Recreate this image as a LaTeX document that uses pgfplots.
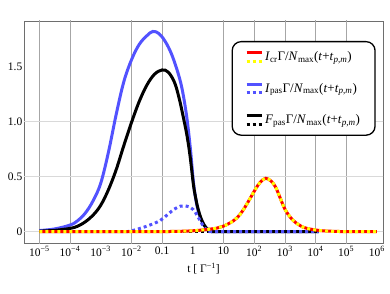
\documentclass[border=0pt]{standalone}
\usepackage{fontspec}
\setmainfont{Liberation Serif}
\usepackage{pgfplots}
\pgfplotsset{compat=1.18}
\definecolor{mblue}{RGB}{82,82,255}
\definecolor{myellow}{RGB}{255,255,0}
\definecolor{mred}{RGB}{255,0,0}
\definecolor{framegray}{RGB}{110,110,110}
\begin{document}
\begin{tikzpicture}
\useasboundingbox (0,0) rectangle (390pt,293pt);
\begin{axis}[
  at={(24pt,50pt)}, anchor=south west,
  scale only axis, width=359pt, height=222pt,
  xmin=-5.5, xmax=6.2, ymin=-0.103, ymax=1.915,
  xtick={-5,-4,-3,-2,-1,0,1,2,3,4,5,6},
  xticklabels={10\textsuperscript{−5},10\textsuperscript{−4},10\textsuperscript{−3},10\textsuperscript{−2},0.1,1,10,10\textsuperscript{2},10\textsuperscript{3},10\textsuperscript{4},10\textsuperscript{5},10\textsuperscript{6}},
  ytick={0,0.5,1,1.5}, yticklabels={0,0.5,1.0,1.5},
  grid=none,
  major tick length=0pt,
  tick style={draw=none},
  tick label style={font=\fontsize{11.5}{13}\selectfont},
  yticklabel style={inner xsep=1.5pt},
  axis line style={draw=framegray, line width=0.6pt},
  xlabel={t [ Γ\textsuperscript{−1}]},
  xlabel style={font=\fontsize{11.5}{13}\selectfont},
  legend cell align=left,
  legend style={at={(0.9797,0.91)}, anchor=north east, draw=black, line width=1.3pt,
    rounded corners=9pt, fill=white, font=\fontsize{13}{15}\selectfont,
    row sep=17pt, inner xsep=13pt, inner ysep=8pt},
]
\pgfplotsinvokeforeach{-5,-4,-2,-1,1,2,3,4,5}{
  \draw[black!35, line width=0.5pt] (axis cs:#1,-0.2) -- (axis cs:#1,2);}
\pgfplotsinvokeforeach{0,0.5,1}{
  \draw[black!15, line width=1.3pt] (axis cs:-6,#1) -- (axis cs:7,#1);}

\addlegendimage{legend image code/.code={
  \draw[mred, line width=3pt] (0pt,4.25pt) -- (15pt,4.25pt);
  \draw[myellow, line width=3pt, dash pattern=on 3pt off 3pt] (0pt,-4.25pt) -- (15pt,-4.25pt);}}
\addlegendentry{\textit{I}\textsubscript{cr}Γ/\textit{N}\textsubscript{max}(\textit{t}+\textit{t}\textsubscript{\textit{p},\textit{m}})}
\addlegendimage{legend image code/.code={
  \draw[mblue, line width=3pt] (0pt,4.25pt) -- (15pt,4.25pt);
  \draw[mblue, line width=3pt, dash pattern=on 3pt off 3pt] (0pt,-4.25pt) -- (15pt,-4.25pt);}}
\addlegendentry{\textit{I}\textsubscript{pas}Γ/\textit{N}\textsubscript{max}(\textit{t}+\textit{t}\textsubscript{\textit{p},\textit{m}})}
\addlegendimage{legend image code/.code={
  \draw[black, line width=3pt] (0pt,4.25pt) -- (15pt,4.25pt);
  \draw[black, line width=3pt, dash pattern=on 3pt off 3pt] (0pt,-4.25pt) -- (15pt,-4.25pt);}}
\addlegendentry{\textit{F}\textsubscript{pas}Γ/\textit{N}\textsubscript{max}(\textit{t}+\textit{t}\textsubscript{\textit{p},\textit{m}})}

% I_pas solid (blue)
\addplot[forget plot, mblue, line width=3pt, smooth, tension=0.6] coordinates {
(-5,0.01) (-4.5,0.025) (-4.0,0.06) (-3.75,0.1) (-3.5,0.17) (-3.25,0.28) (-3.0,0.44)
(-2.75,0.72) (-2.5,1.06) (-2.25,1.36) (-2.0,1.56) (-1.75,1.7) (-1.5,1.78) (-1.3,1.82)
(-1.1,1.8) (-0.9,1.73) (-0.7,1.62) (-0.5,1.46) (-0.35,1.3) (-0.2,1.05) (-0.08,0.76)
(0.03,0.43) (0.15,0.22) (0.3,0.09) (0.45,0.03) (0.6,0.006) (0.75,0) (2,0) (4.1,0)};
% F_pas solid (black)
\addplot[forget plot, black, line width=3pt, smooth, tension=0.6] coordinates {
(-5,0.005) (-4.5,0.012) (-4,0.03) (-3.75,0.05) (-3.5,0.09) (-3.25,0.15) (-3.0,0.24)
(-2.75,0.38) (-2.5,0.56) (-2.25,0.78) (-2.0,0.99) (-1.75,1.18) (-1.5,1.33) (-1.25,1.43)
(-1.0,1.47) (-0.8,1.45) (-0.6,1.36) (-0.45,1.22) (-0.3,1.03) (-0.18,0.86) (-0.08,0.67)
(0.02,0.43) (0.1,0.3) (0.18,0.2) (0.3,0.1) (0.45,0.03) (0.6,0.006) (0.75,0) (2,0) (4.1,0)};
% F_pas dotted (black)
\addplot[forget plot, black, line width=3pt, dash pattern=on 3pt off 3pt] coordinates {
(-5,0) (4.1,0)};
% I_pas dotted (blue)
\addplot[forget plot, mblue, line width=3pt, dash pattern=on 3pt off 3pt, dash phase=3pt, smooth, tension=0.6] coordinates {
(-5,0) (-2.4,0) (-2,0.008) (-1.72,0.03) (-1.4,0.06) (-1.07,0.1) (-0.8,0.16) (-0.6,0.205) (-0.4,0.232)
(-0.25,0.235) (-0.1,0.225) (0.02,0.2) (0.14,0.15) (0.24,0.1) (0.4,0.03) (0.55,0.005) (0.7,0) (2,0) (4.1,0)};
% I_cr solid (red)
\addplot[forget plot, mred, line width=3pt, smooth, tension=0.6] coordinates {
(-5,0) (-1.5,0) (-0.5,0.003) (0,0.008) (0.4,0.018) (0.78,0.032) (1.0,0.05) (1.33,0.1)
(1.55,0.16) (1.76,0.25) (2.03,0.38) (2.2,0.45) (2.38,0.485) (2.55,0.46) (2.69,0.41)
(2.83,0.32) (2.96,0.23) (3.1,0.16) (3.28,0.1) (3.5,0.055) (3.72,0.03) (4.15,0.01)
(4.6,0.003) (5,0.001) (6,0)};
% I_cr dotted (yellow)
\addplot[forget plot, myellow, line width=3pt, dash pattern=on 3pt off 3pt, smooth, tension=0.6] coordinates {
(-5,0) (-1.5,0) (-0.5,0.003) (0,0.008) (0.4,0.018) (0.78,0.032) (1.0,0.05) (1.33,0.1)
(1.55,0.16) (1.76,0.25) (2.03,0.38) (2.2,0.45) (2.38,0.485) (2.55,0.46) (2.69,0.41)
(2.83,0.32) (2.96,0.23) (3.1,0.16) (3.28,0.1) (3.5,0.055) (3.72,0.03) (4.15,0.01)
(4.6,0.003) (5,0.001) (6,0)};
\end{axis}
\end{tikzpicture}
\end{document}
